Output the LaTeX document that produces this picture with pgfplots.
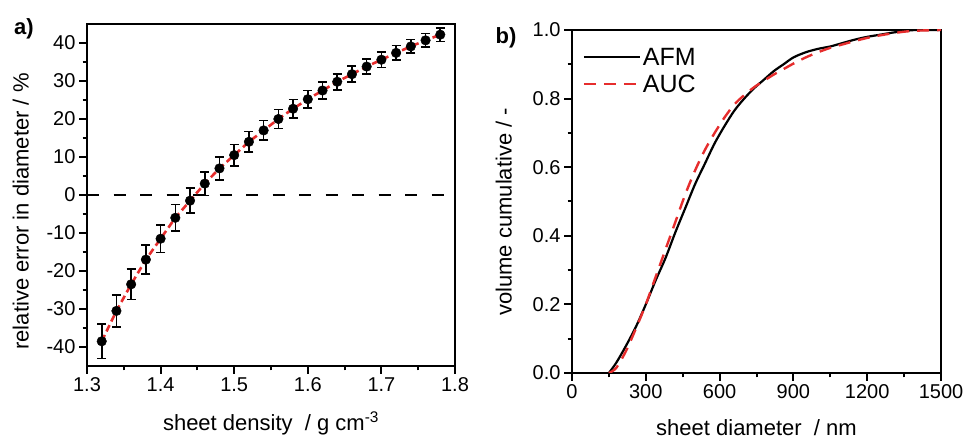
\documentclass[border=0pt]{standalone}
\usepackage{fontspec}
\setmainfont{Liberation Sans}
\usepackage{pgfplots}
\pgfplotsset{compat=1.18}
\usepackage{pgfplotstable}
\definecolor{myred}{RGB}{230,45,45}

\pgfplotstableread{
x y e
1.32 -38.5 4.5
1.34 -30.5 4.2
1.36 -23.5 4.0
1.38 -17.0 3.8
1.40 -11.5 3.6
1.42 -6.0 3.5
1.44 -1.5 3.3
1.46 3.0 3.1
1.48 7.0 3.0
1.50 10.5 2.8
1.52 14.0 2.7
1.54 17.0 2.6
1.56 20.0 2.5
1.58 22.7 2.4
1.60 25.2 2.3
1.62 27.5 2.2
1.64 29.8 2.1
1.66 31.8 2.1
1.68 33.8 2.0
1.70 35.6 2.0
1.72 37.4 1.9
1.74 39.1 1.8
1.76 40.7 1.8
1.78 42.2 1.8
}\dataA

\pgfplotstableread{
x y
150 0
180 0.03
220 0.08
260 0.135
300 0.2
340 0.27
380 0.335
420 0.41
460 0.48
500 0.55
540 0.61
580 0.67
620 0.72
660 0.765
700 0.80
740 0.83
780 0.855
820 0.88
860 0.90
900 0.92
950 0.935
1000 0.945
1050 0.952
1100 0.962
1150 0.972
1200 0.98
1250 0.986
1300 0.992
1350 0.997
1400 1.0
1500 1.0
}\afm

\pgfplotstableread{
x y
150 0
180 0.015
220 0.065
260 0.13
300 0.2
340 0.28
380 0.36
420 0.44
460 0.52
500 0.59
540 0.65
580 0.70
620 0.745
660 0.783
700 0.81
740 0.833
780 0.852
820 0.87
860 0.886
900 0.902
950 0.92
1000 0.935
1050 0.948
1100 0.958
1150 0.968
1200 0.977
1250 0.984
1300 0.99
1350 0.995
1400 0.998
1500 1.0
}\auc

\pgfplotsset{
  common/.style={
    scale only axis,
    axis line style={line width=2.4pt},
    tick style={line width=2pt, black},
    major tick length=8pt,
    minor tick length=4.5pt,
    tick align=outside,
    xtick pos=left, ytick pos=left,
    /pgf/number format/assume math mode=true,
    tick label style={font=\fontsize{20}{23}\selectfont},
    label style={font=\fontsize{22}{26}\selectfont},
  }
}

\begin{document}
\begin{tikzpicture}
\path[use as bounding box] (0,0) rectangle (965pt,438pt);

\begin{axis}[common, at={(87pt,72pt)}, anchor=south west, width=368pt, height=342pt,
  xmin=1.3, xmax=1.8, ymin=-45, ymax=45,
  xtick={1.3,1.4,1.5,1.6,1.7,1.8}, minor x tick num=1,
  ytick={-40,-30,-20,-10,0,10,20,30,40}, minor y tick num=1,
  xticklabel style={/pgf/number format/.cd, fixed, fixed zerofill, precision=1},
  xlabel={sheet density\ \ / g cm\textsuperscript{-3}},
  ylabel={relative error in diameter / \%},
  xlabel style={at={(axis description cs:0.5,-0.168)}, anchor=center},
  ylabel style={at={(axis description cs:-0.18,0.452)}, anchor=center},
]
\addplot[black, line width=2.8pt, dash pattern=on 12pt off 14.5pt] coordinates {(1.3,0) (1.8,0)};
\addplot[myred, line width=2.6pt, dash pattern=on 7pt off 4pt] table[x=x,y=y] {\dataA};
\addplot[black, only marks, mark=*, mark size=4.8pt,
  error bars/.cd, y dir=both, y explicit,
  error bar style={line width=1.6pt, black},
  error mark options={rotate=90, mark size=4.5pt, line width=1.6pt, black}]
  table[x=x,y=y,y error=e] {\dataA};
\end{axis}

\begin{axis}[common, at={(572pt,65pt)}, anchor=south west, width=369pt, height=343pt,
  xmin=0, xmax=1500, ymin=0, ymax=1,
  xtick={0,300,600,900,1200,1500}, minor x tick num=1,
  ytick={0,0.2,0.4,0.6,0.8,1.0}, minor y tick num=1,
  yticklabel style={/pgf/number format/.cd, fixed, fixed zerofill, precision=1},
  xticklabel style={/pgf/number format/1000 sep={}},
  xlabel={sheet diameter\ \ / nm}, ylabel={volume cumulative / -},
  xlabel style={at={(axis description cs:0.5,-0.158)}, anchor=center},
  ylabel style={at={(axis description cs:-0.185,0.47)}, anchor=center},
  legend style={draw=none, fill=none, at={(axis description cs:0.02,0.96)}, anchor=north west,
    font=\fontsize{25}{30}\selectfont, row sep=4pt},
  legend cell align=left,
  legend image code/.code={\draw[#1] (0pt,0pt) -- (56pt,0pt);},
]
\addplot[black, line width=2.2pt, smooth] table[x=x,y=y] {\afm};
\addlegendentry{AFM}
\addplot[myred, line width=2.4pt, dash pattern=on 12pt off 8pt, smooth] table[x=x,y=y] {\auc};
\addlegendentry{AUC}
\end{axis}

\node[font=\fontsize{22}{26}\selectfont\bfseries] at (24pt,409pt) {a)};
\node[font=\fontsize{22}{26}\selectfont\bfseries] at (506pt,400pt) {b)};
\end{tikzpicture}
\end{document}
